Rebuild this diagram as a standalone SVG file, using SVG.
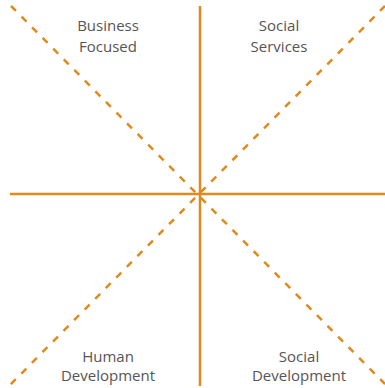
<svg xmlns="http://www.w3.org/2000/svg" width="385" height="388" viewBox="0 0 385 388">
<style>
.axis{stroke:#e0891c;stroke-width:2.5;fill:none}
.diag{stroke:#e0891c;stroke-width:2.5;fill:none;stroke-dasharray:7 8}
.lbl{font-family:"Open Sans","Noto Sans",sans-serif;font-size:15px;fill:#555;text-anchor:middle}
</style>
<rect width="385" height="388" fill="#fff"/>
<g id="connectors">
<line class="diag" x1="11" y1="6" x2="385" y2="384"/>
<line class="diag" x1="385" y1="6" x2="10" y2="385"/>
<line class="axis" x1="200" y1="6" x2="200" y2="386"/>
<line class="axis" x1="10" y1="194" x2="385" y2="194"/>
</g>
<g id="business"><text class="lbl" x="108" y="31">Business</text><text class="lbl" x="108" y="52">Focused</text></g>
<g id="social-services"><text class="lbl" x="279" y="31">Social</text><text class="lbl" x="279" y="52">Services</text></g>
<g id="human"><text class="lbl" x="108" y="362">Human</text><text class="lbl" x="108" y="381">Development</text></g>
<g id="social-development"><text class="lbl" x="299" y="362">Social</text><text class="lbl" x="299" y="381">Development</text></g>
</svg>
